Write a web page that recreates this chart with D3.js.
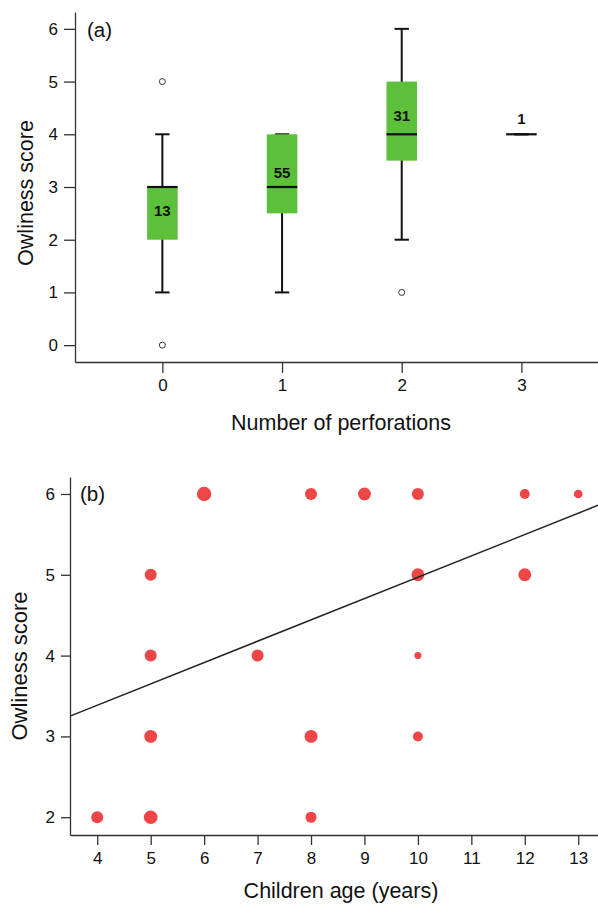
<!DOCTYPE html>
<html>
<head>
<meta charset="utf-8">
<script src="https://cdn.jsdelivr.net/npm/d3@7"></script>
<style>
  body { margin: 0; background: #fff; }
  svg { display: block; font-family: "Liberation Sans", Arial, sans-serif; }
  .axis path, .axis line { stroke: #333; stroke-width: 1.3; }
</style>
</head>
<body>
<div id="container"></div>
<script>
// panel (a): owliness score by number of perforations
const perforations = [0, 1, 2, 3]
const q1 = [2, 2.5, 3.5, 4]
const medians = [3, 3, 4, 4]
const q3 = [3, 4, 5, 4]
const whiskLow = [1, 1, 2, 4]
const whiskHigh = [4, 4, 6, 4]
const counts = [13, 55, 31, 1]
const countLabelAt = [2.55, 3.28, 4.36, 4.3]
const outliers = [
    { group: 0, value: 5 },
    { group: 0, value: 0 },
    { group: 2, value: 1 }
]

// panel (b): owliness score by children age, dot size = number of children
const ages = [4, 5, 5, 5, 5, 6, 7, 8, 8, 8, 9, 10, 10, 10, 10, 12, 12, 13]
const scores = [2, 2, 3, 4, 5, 6, 4, 2, 3, 6, 6, 6, 5, 4, 3, 6, 5, 6]
const children = [5, 7, 6, 5, 5, 8, 5, 4, 6, 5, 6, 5, 6, 1, 3, 3, 6, 2]
const fitIntercept = 2.33
const fitSlope = 0.264

const width = 598
const height = 908

const svg = d3.select("#container").append("svg")
    .attr("width", width)
    .attr("height", height)

function styleAxis(g) {
    g.attr("font-family", "Liberation Sans, Arial, sans-serif")
        .attr("font-size", 17)
    g.selectAll("text").attr("fill", "#111")
}

// ---------- (a) ----------
const xa = d3.scaleLinear().domain([-0.73, 3.64]).range([75, 598])
const ya = d3.scaleLinear().domain([-0.32, 6.32]).range([362, 12])

svg.append("g")
    .attr("class", "axis")
    .attr("transform", "translate(75,0)")
    .call(d3.axisLeft(ya).tickValues([0, 1, 2, 3, 4, 5, 6]).tickFormat(d3.format("d"))
        .tickSize(11).tickSizeOuter(0).tickPadding(6))
    .call(styleAxis)

svg.append("g")
    .attr("class", "axis")
    .attr("transform", "translate(0,362)")
    .call(d3.axisBottom(xa).tickValues(perforations).tickFormat(d3.format("d"))
        .tickSize(11).tickSizeOuter(0).tickPadding(6))
    .call(styleAxis)

const boxW = 0.255
const capW = 0.12

const box = svg.append("g").selectAll("g")
    .data(perforations)
    .enter().append("g")

box.append("line")
    .attr("x1", d => xa(d)).attr("x2", d => xa(d))
    .attr("y1", (d, i) => ya(whiskLow[i])).attr("y2", (d, i) => ya(whiskHigh[i]))
    .attr("stroke", "#111").attr("stroke-width", 2)

box.selectAll(".cap")
    .data((d, i) => [[d, whiskLow[i]], [d, whiskHigh[i]]])
    .enter().append("line")
    .attr("class", "cap")
    .attr("x1", d => xa(d[0] - capW / 2)).attr("x2", d => xa(d[0] + capW / 2))
    .attr("y1", d => ya(d[1])).attr("y2", d => ya(d[1]))
    .attr("stroke", "#111").attr("stroke-width", 2)

box.append("rect")
    .attr("x", d => xa(d - boxW / 2))
    .attr("width", xa(boxW) - xa(0))
    .attr("y", (d, i) => ya(q3[i]))
    .attr("height", (d, i) => ya(q1[i]) - ya(q3[i]))
    .attr("fill", "#5cc03a")

box.append("line")
    .attr("x1", d => xa(d - boxW / 2)).attr("x2", d => xa(d + boxW / 2))
    .attr("y1", (d, i) => ya(medians[i])).attr("y2", (d, i) => ya(medians[i]))
    .attr("stroke", "#111").attr("stroke-width", 2.2)

box.append("text")
    .attr("x", d => xa(d))
    .attr("y", (d, i) => ya(countLabelAt[i]))
    .attr("text-anchor", "middle")
    .attr("dominant-baseline", "central")
    .attr("font-size", 15)
    .attr("font-weight", "bold")
    .attr("fill", "#111")
    .text((d, i) => counts[i])

svg.append("g").selectAll("circle")
    .data(outliers)
    .enter().append("circle")
    .attr("cx", d => xa(d.group))
    .attr("cy", d => ya(d.value))
    .attr("r", 3)
    .attr("fill", "none")
    .attr("stroke", "#333")
    .attr("stroke-width", 1)

svg.append("text")
    .attr("x", 87).attr("y", 37)
    .attr("font-size", 20.5).attr("fill", "#111")
    .text("(a)")

svg.append("text")
    .attr("transform", "translate(33,193) rotate(-90)")
    .attr("text-anchor", "middle")
    .attr("font-size", 21.5).attr("fill", "#111")
    .text("Owliness score")

svg.append("text")
    .attr("x", 341).attr("y", 430)
    .attr("text-anchor", "middle")
    .attr("font-size", 21.5).attr("fill", "#111")
    .text("Number of perforations")

// ---------- (b) ----------
const xb = d3.scaleLinear().domain([3.49, 13.37]).range([70, 598])
const yb = d3.scaleLinear().domain([1.78, 6.21]).range([835, 477])
const r = d3.scaleSqrt().domain([1, 8]).range([3.5, 7.2])

svg.append("g")
    .attr("class", "axis")
    .attr("transform", "translate(70,0)")
    .call(d3.axisLeft(yb).tickValues([2, 3, 4, 5, 6]).tickFormat(d3.format("d"))
        .tickSize(9).tickSizeOuter(0).tickPadding(6))
    .call(styleAxis)

svg.append("g")
    .attr("class", "axis")
    .attr("transform", "translate(0,835)")
    .call(d3.axisBottom(xb).tickValues(d3.range(4, 14)).tickFormat(d3.format("d"))
        .tickSize(10).tickSizeOuter(0).tickPadding(7))
    .call(styleAxis)

svg.append("g").selectAll("circle")
    .data(ages)
    .enter().append("circle")
    .attr("cx", d => xb(d))
    .attr("cy", (d, i) => yb(scores[i]))
    .attr("r", (d, i) => r(children[i]))
    .attr("fill", "#ee4646")

const fit = xb.domain().map(a => [a, fitIntercept + fitSlope * a])
svg.append("path")
    .datum(fit)
    .attr("d", d3.line().x(d => xb(d[0])).y(d => yb(d[1])))
    .attr("stroke", "#222")
    .attr("stroke-width", 1.5)
    .attr("fill", "none")

svg.append("text")
    .attr("x", 80).attr("y", 501)
    .attr("font-size", 20.5).attr("fill", "#111")
    .text("(b)")

svg.append("text")
    .attr("transform", "translate(27,666) rotate(-90)")
    .attr("text-anchor", "middle")
    .attr("font-size", 22).attr("fill", "#111")
    .text("Owliness score")

svg.append("text")
    .attr("x", 341).attr("y", 898)
    .attr("text-anchor", "middle")
    .attr("font-size", 21.5).attr("fill", "#111")
    .text("Children age (years)")
</script>
</body>
</html>
